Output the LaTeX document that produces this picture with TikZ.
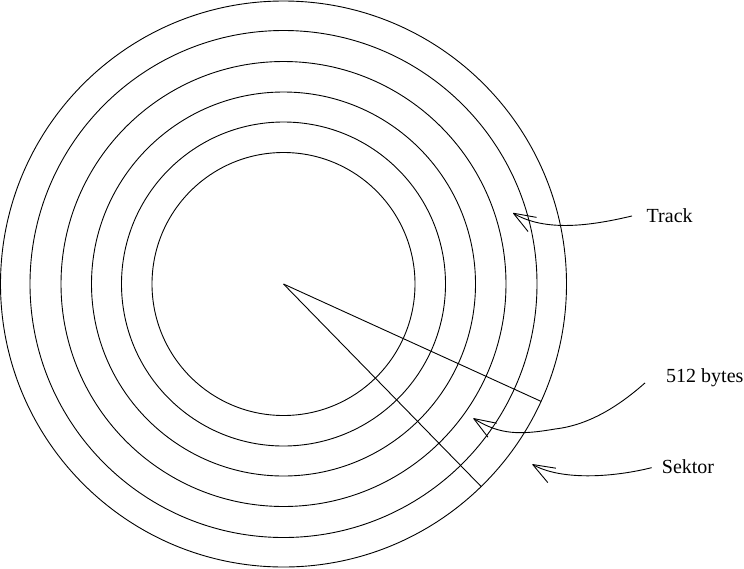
\documentclass[tikz,border=0pt]{standalone}
\usepackage{fontspec}
\setmainfont{Liberation Serif}
\usetikzlibrary{arrows.meta,calc}
\begin{document}
\begin{tikzpicture}[x=1pt,y=-1pt,
  track/.style={line width=0.9pt},
  arr/.style={line width=0.9pt,-{Straight Barb[length=22pt,width=16.5pt,line join=round]}},
  lbl/.style={anchor=base west,inner sep=0pt,font=\fontsize{20}{24}\selectfont}]
\useasboundingbox (0,0) rectangle (744,568);
\coordinate (c) at (283.5,284);
\foreach \r in {131.5,162,192,222.5,253.5,283}
  \draw[track] (c) circle (\r);
\coordinate (s1) at ($(c)+(24.5:283)$);
\coordinate (s2) at ($(c)+(45.7:283)$);
\draw[track] (c) -- (s1);
\draw[track] (c) -- (s2);
\node[lbl] (trk) at (646.5,222) {Track};
\node[lbl] (byt) at (666,382) {512 bytes};
\node[lbl] (sek) at (661.7,473.3) {Sektor};
\coordinate (t1) at (513,213);
\coordinate (t2) at (473.3,418.3);
\coordinate (t3) at (532.3,464.3);
\draw[arr] ($(trk.west)+(-14.5,0.8)$) .. controls (590,226) and (545,232) .. (t1);
\draw[arr] ($(byt.west)+(-21,5.7)$) .. controls (620,405) and (590,425) .. (555,429)
  .. controls (520,435) and (500,435) .. (t2);
\draw[arr] ($(sek.west)+(-10,1.2)$) .. controls (610,478) and (560,480) .. (t3);
\end{tikzpicture}
\end{document}
